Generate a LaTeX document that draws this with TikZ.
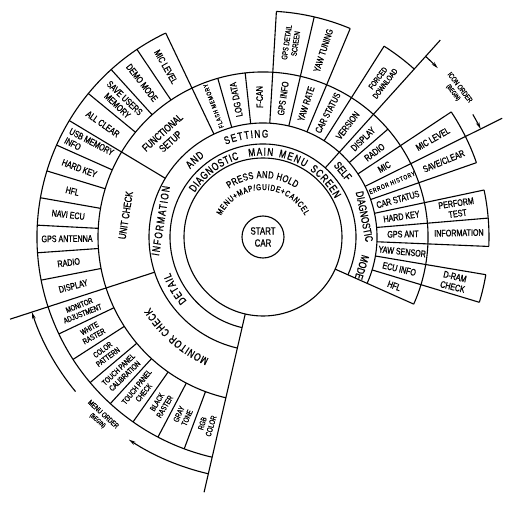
\documentclass[tikz,border=0pt]{standalone}
\usepackage{fontspec}
\setmainfont{Liberation Sans}
\newfontfamily\cnd{Liberation Sans}[FakeStretch=0.75,FakeBold=1]
\newfontfamily\cndw{Liberation Sans}[FakeStretch=0.75,FakeBold=1,LetterSpace=12]
\usetikzlibrary{arrows.meta,decorations.text}
\newcommand\ringfont{\fontsize{11}{11}\selectfont\cnd}
\newcommand\pressfont{\fontsize{10}{10}\selectfont\cnd}
\newcommand\menufont{\fontsize{8.5}{8.5}\selectfont\cnd}

\begin{document}
\begin{tikzpicture}[x=1pt,y=1pt,line width=1.1pt,line join=round,
    lbl/.style={font=\fontsize{9.5}{10.5}\selectfont\cnd,align=center,inner sep=0pt},
    lbs/.style={font=\fontsize{8}{9}\selectfont\cnd,align=center,inner sep=0pt},
    lbt/.style={font=\fontsize{6.5}{6.5}\selectfont\cndw,align=center,inner sep=0pt},
    ring/.style={font=\ringfont,align=center,inner sep=0pt},
    ordr/.style={font=\fontsize{7.5}{8}\selectfont\cnd,align=center,inner sep=0pt},
    arctext/.style={decorate,decoration={text along path,text align=fit to path,text={#1}}},
    tip/.style={-{Stealth[length=7pt,width=3.5pt]}}]
  \useasboundingbox (-263,-271) rectangle (261,237);
  % centre and rings
  \draw (0,0) circle[radius=21];
  \node[font=\fontsize{10.5}{12}\selectfont\cnd,align=center,inner sep=0pt] (start) at (0,0) {START\\CAR};
  \draw (0,0) circle[radius=79];
  \foreach \r in {93,114,165}
    \draw (-24:\r) arc[start angle=-24,end angle=257,radius=\r];
  % outer segments
  \foreach \a/\b in {115.5/257,67.3/86.6,48/57.6,19.2/33.6,-2.4/12,-16.8/-9.6}
    \draw (\a:226) arc[start angle=\a,end angle=\b,radius=226];
  % separators
  \draw (257:79) -- (257:262);
  \draw (-24:79) -- (-24:165);
  \draw (48:93) -- (48:265);
  \draw (198:114) -- (198:266);
  \draw (26.4:114) -- (26.4:267);
  \foreach \a in {115.5,149,86.6,76.9,67.3,57.6,33.6,19.2,12,4.8,-2.4,-9.6,-16.8}
    \draw (\a:114) -- (\a:226);
  \foreach \a in {105.9,96.2,40.8}
    \draw (\a:114) -- (\a:165);
  \foreach \a in {140.6,132.2,123.9,156,163,170,177,184,191,205.4,212.8,220.1,227.5,234.9,242.3,249.6}
    \draw (\a:165) -- (\a:226);
  % outer ring, left
  \foreach \a/\t [count=\i] in {144.8/ALL CLEAR,136.4/{SAVE USERS\\MEMORY},128.1/DEMO MODE,119.7/MIC LEVEL,
      159.5/HARD KEY,166.5/HFL,173.5/NAVI ECU,180.5/GPS ANTENNA,187.5/RADIO,194.5/DISPLAY}
    \node[lbl,rotate=\a-180] (ol\i) at (\a:196) {\t};
  \node[lbl,align=left,rotate=-27.5] (usb) at (152.5:196) {USB MEMORY\\INFO};
  \foreach \a/\t [count=\i] in {201.7/{MONITOR\\ADJUSTMENT},209.1/{WHITE\\RASTER},216.4/{COLOR\\PATTERN},
      223.8/{TOUCH PANEL\\CALIBRATION},231.2/{TOUCH PANEL\\CHECK},238.6/{BLACK\\RASTER},
      245.9/{GRAY\\TONE},253.3/{RGB\\COLOR}}
    \node[lbs,rotate=\a-180] (om\i) at (\a:196) {\t};
  % middle ring, top and right
  \foreach \a/\t [count=\i] in {101.05/LOG DATA,91.4/F-CAN,81.75/GPS INFO,72.1/YAW RATE,62.45/CAR STATUS,
      52.8/VERSION,44.4/DISPLAY,37.2/RADIO,30/MIC,15.6/CAR STATUS,8.4/HARD KEY,1.2/GPS ANT,
      -6/YAW SENSOR,-13.2/ECU INFO,-20.4/HFL}
    \node[lbl,rotate=\a] (il\i) at (\a:140) {\t};
  \node[lbt,rotate=110.7] (flash) at (110.7:140) {FLASH MEMORY};
  \node[lbt,rotate=22.8] (err) at (22.8:140) {ERROR HISTORY};
  % outer ring, top and right
  \node[lbs,rotate=81.75] (gpsd) at (81.75:196) {GPS DETAIL\\SCREEN};
  \node[lbl,rotate=72.1] (yawt) at (72.1:196) {YAW TUNING};
  \node[lbs,rotate=52.8] (forced) at (52.8:196) {FORCED\\DOWNLOAD};
  \foreach \a/\t [count=\i] in {30/MIC LEVEL,22.8/{SAVE/CLEAR},8.4/{PERFORM\\TEST},1.2/INFORMATION,-13.2/{D-RAM\\CHECK}}
    \node[lbl,rotate=\a] (or\i) at (\a:196) {\t};
  % ring words
  \node[ring,rotate=-50.5] (self) at (39.5:103.5) {SELF};
  \node[ring,rotate=-78.6] (diag) at (11.4:103.5) {DIAGNOSTIC};
  \node[ring,rotate=-107] (mode) at (-17:103.5) {MODE};
  \node[ring,font=\fontsize{11}{11}\selectfont\cndw,rotate=81] (info) at (171:103.5) {INFORMATION};
  \node[ring,font=\fontsize{10.5}{10.5}\selectfont\cnd,rotate=81] (unit) at (171:139) {UNIT CHECK};
  \node[ring,font=\fontsize{10.5}{12}\selectfont\cnd,rotate=42] (func) at (134:139) {FUNCTIONAL\\SETUP};
  \path[arctext={|\ringfont|DIAGNOSTIC}] (147:81.5) arc[start angle=147,end angle=107,radius=81.5];
  \path[arctext={|\ringfont|MAIN}] (100:81.5) arc[start angle=100,end angle=83,radius=81.5];
  \path[arctext={|\ringfont|MENU}] (79:81.5) arc[start angle=79,end angle=59,radius=81.5];
  \path[arctext={|\ringfont|SCREEN}] (55:81.5) arc[start angle=55,end angle=28,radius=81.5];
  \path[arctext={|\pressfont|PRESS AND HOLD}] (125:59) arc[start angle=125,end angle=56,radius=59];
  \path[arctext={|\menufont|MENU+MAP/GUIDE+CANCEL}] (153:47) arc[start angle=153,end angle=27,radius=47];
  \path[arctext={|\ringfont|DETAIL}] (220:99.5) arc[start angle=220,end angle=201,radius=99.5];
  \path[arctext={|\ringfont|AND}] (137:99.5) arc[start angle=137,end angle=126,radius=99.5];
  \path[arctext={|\ringfont|SETTING}] (112:99.5) arc[start angle=112,end angle=87,radius=99.5];
  \path[arctext={|\ringfont|MONITOR CHECK}] (246:133) arc[start angle=246,end angle=212,radius=133];
  % order arrows
  \draw[tip] (48:243) arc[start angle=48,end angle=44,radius=243];
  \node[ordr,rotate=-52.8] (icon) at (37.2:243) {ICON ORDER\\{\fontsize{6.5}{7}\selectfont(BEGIN)}};
  \draw[tip] (30.3:243) arc[start angle=30.3,end angle=26.4,radius=243];
  \draw[tip] (257:243) arc[start angle=257,end angle=236.5,radius=243];
  \node[ordr,rotate=-42] (menu) at (228:243) {MENU ORDER\\{\fontsize{6.5}{7}\selectfont(BEGIN)}};
  \draw[tip] (219.5:243) arc[start angle=219.5,end angle=198,radius=243];
\end{tikzpicture}
\end{document}
